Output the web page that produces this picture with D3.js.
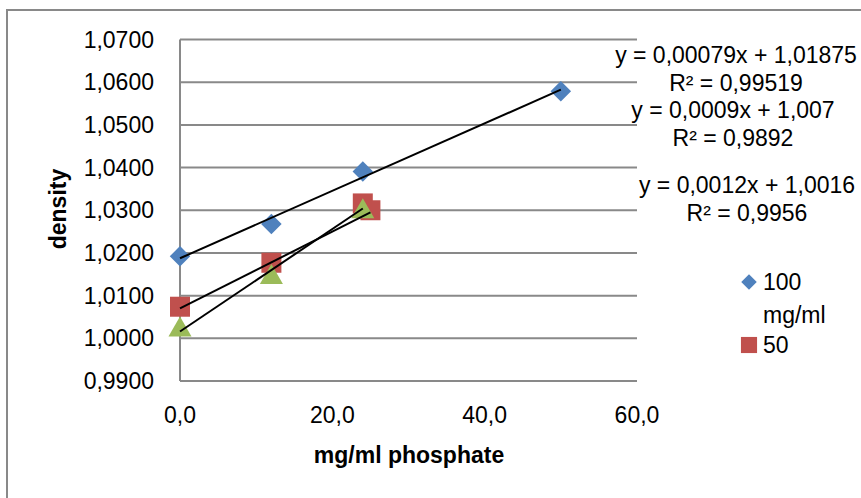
<!DOCTYPE html>
<html><head><meta charset="utf-8">
<script src="https://cdn.jsdelivr.net/npm/d3@7"></script>
<style>body{margin:0;background:#fff}svg{display:block}text{font-family:"Liberation Sans",Arial,sans-serif;fill:#000}</style>
</head><body>
<svg id="c" width="861" height="498"></svg>
<script>
// ---- data ----
const xTicks = [0, 20, 40, 60];
const yTicks = [0.99, 1.00, 1.01, 1.02, 1.03, 1.04, 1.05, 1.06, 1.07];
const seriesNames = ["100 mg/ml", "50", "25"];
const x100 = [0, 12, 24, 50];
const y100 = [1.0192, 1.0268, 1.0391, 1.0579];
const x50 = [0, 12, 24, 25];
const y50 = [1.0074, 1.0177, 1.0316, 1.0300];
const x25 = [0, 12, 24];
const y25 = [1.0020, 1.0143, 1.0297];
const slopes = [0.00079, 0.0009, 0.0012];
const intercepts = [1.01875, 1.007, 1.0016];
const eqLabels = ["y = 0,00079x + 1,01875", "y = 0,0009x + 1,007", "y = 0,0012x + 1,0016"];
const r2Labels = ["R² = 0,99519", "R² = 0,9892", "R² = 0,9956"];
const colors = ["#4F81BD", "#C0504D", "#9BBB59"];

const svg = d3.select("#c");
const x = d3.scaleLinear().domain([0, 60]).range([180, 637]);
const y = d3.scaleLinear().domain([0.99, 1.07]).range([381, 39.5]);
const fmtY = v => d3.format(".4f")(v).replace(".", ",");
const fmtX = v => d3.format(".1f")(v).replace(".", ",");

// outer border (top & left visible)
svg.append("path").attr("d", "M7,498 V10 H861").attr("fill", "none").attr("stroke", "#898989").attr("stroke-width", 2);

// gridlines
svg.append("g").selectAll("line").data(yTicks).join("line")
  .attr("x1", x(0)).attr("x2", x(60)).attr("y1", d => y(d)).attr("y2", d => y(d))
  .attr("stroke", "#898989").attr("stroke-width", 2);
svg.append("line").attr("x1", x(0)).attr("x2", x(0)).attr("y1", y(0.99)).attr("y2", y(1.07))
  .attr("stroke", "#898989").attr("stroke-width", 2);

// y tick labels
svg.append("g").selectAll("text").data(yTicks).join("text")
  .attr("x", 154).attr("y", d => y(d) + 8).attr("text-anchor", "end")
  .attr("font-size", 23).text(fmtY);
// x tick labels
svg.append("g").selectAll("text").data(xTicks).join("text")
  .attr("x", d => x(d)).attr("y", 423).attr("text-anchor", "middle")
  .attr("font-size", 23).text(fmtX);

// axis titles
svg.append("text").attr("x", 409).attr("y", 463).attr("text-anchor", "middle")
  .attr("font-size", 23).attr("font-weight", "bold").text("mg/ml phosphate");
svg.append("text").attr("transform", "translate(66,209) rotate(-90)").attr("text-anchor", "middle")
  .attr("font-size", 23).attr("font-weight", "bold").text("density");

// markers
const sym = [d3.symbolSquare, d3.symbolSquare, d3.symbolTriangle];
const sizes = [210, 400, 230];
const rot = [45, 0, 0];
const series = [[x100, y100], [x50, y50], [x25, y25]];
series.forEach(([xs, ys], i) => {
  svg.append("g").selectAll("path").data(xs.map((v, j) => [v, ys[j]])).join("path")
    .attr("d", d3.symbol(sym[i], sizes[i]))
    .attr("transform", d => `translate(${x(d[0])},${y(d[1])}) rotate(${rot[i]})`)
    .attr("fill", colors[i]);
});

// trendlines
series.forEach(([xs], i) => {
  const x0 = d3.min(xs), x1 = d3.max(xs);
  svg.append("line")
    .attr("x1", x(x0)).attr("y1", y(slopes[i] * x0 + intercepts[i]))
    .attr("x2", x(x1)).attr("y2", y(slopes[i] * x1 + intercepts[i]))
    .attr("stroke", "#000").attr("stroke-width", 2);
});

// equation labels
const eqPos = [[736, 55, 83], [733, 110, 138], [747, 185, 213]];
eqPos.forEach((p, i) => {
  svg.append("text").attr("x", p[0]).attr("y", p[1] + 8).attr("text-anchor", "middle").attr("font-size", 23).text(eqLabels[i]);
  svg.append("text").attr("x", p[0]).attr("y", p[2] + 8).attr("text-anchor", "middle").attr("font-size", 23).text(r2Labels[i]);
});

// legend (clipped: only first two entries visible)
svg.append("path").attr("d", d3.symbol(d3.symbolSquare, 120)).attr("transform", "translate(749,282) rotate(45)").attr("fill", colors[0]);
svg.append("text").attr("x", 763).attr("y", 290).attr("font-size", 23).text("100");
svg.append("text").attr("x", 763).attr("y", 323).attr("font-size", 23).text("mg/ml");
svg.append("path").attr("d", d3.symbol(d3.symbolSquare, 260)).attr("transform", "translate(749,345)").attr("fill", colors[1]);
svg.append("text").attr("x", 763).attr("y", 353).attr("font-size", 23).text(seriesNames[1]);
</script>
</body></html>
